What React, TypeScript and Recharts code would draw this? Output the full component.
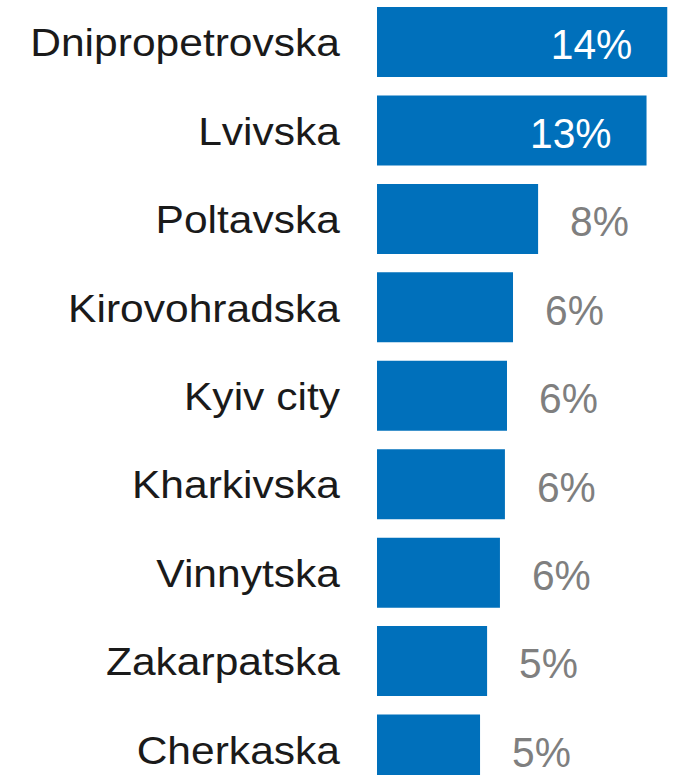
import { BarChart, Bar, XAxis, YAxis, LabelList } from 'recharts';

const regions = [
    'Dnipropetrovska',
    'Lvivska',
    'Poltavska',
    'Kirovohradska',
    'Kyiv city',
    'Kharkivska',
    'Vinnytska',
    'Zakarpatska',
    'Cherkaska',
];
const shares = [14.0, 13.0, 7.77, 6.56, 6.27, 6.17, 5.93, 5.31, 4.97];
const shareLabels = ['14%', '13%', '8%', '6%', '6%', '6%', '6%', '5%', '5%'];

const data = regions.map((name, i) => ({ name, share: shares[i], label: shareLabels[i] }));

const FONT = '"Liberation Sans", Arial, sans-serif';

const RegionTick = ({ x, y, payload }: any) => (
    <text
        transform={`translate(${x},${y + 14}) scale(1.12,1)`}
        textAnchor="end"
        fontSize={38}
        fontFamily={FONT}
        fill="#1a1a1a"
    >
        {payload.value}
    </text>
);

const ShareLabel = ({ x, y, width, height, index }: any) => {
    const inside = index < 2;
    const tx = inside ? x + width - 35 : x + width + 32;
    const ty = y + height / 2 + 17.3;
    return (
        <text
            transform={`translate(${tx},${ty}) scale(0.97,1)`}
            textAnchor={inside ? 'end' : 'start'}
            fontSize={42}
            fontFamily={FONT}
            fill={inside ? '#ffffff' : '#7f7f7f'}
        >
            {data[index].label}
        </text>
    );
};

export default function App() {
    return (
        <div style={{ position: 'absolute', top: -2.3, left: 0 }}>
            <BarChart
                width={688}
                height={796}
                data={data}
                layout="vertical"
                margin={{ top: 0, right: 0, bottom: 0, left: 0 }}
            >
                <XAxis type="number" domain={[0, 15]} hide />
                <YAxis
                    type="category"
                    dataKey="name"
                    width={377}
                    axisLine={false}
                    tickLine={false}
                    tickSize={0}
                    tickMargin={37}
                    interval={0}
                    tick={<RegionTick />}
                />
                <Bar dataKey="share" fill="#0070BB" barSize={70} isAnimationActive={false}>
                    <LabelList dataKey="share" content={<ShareLabel />} />
                </Bar>
            </BarChart>
        </div>
    );
}
